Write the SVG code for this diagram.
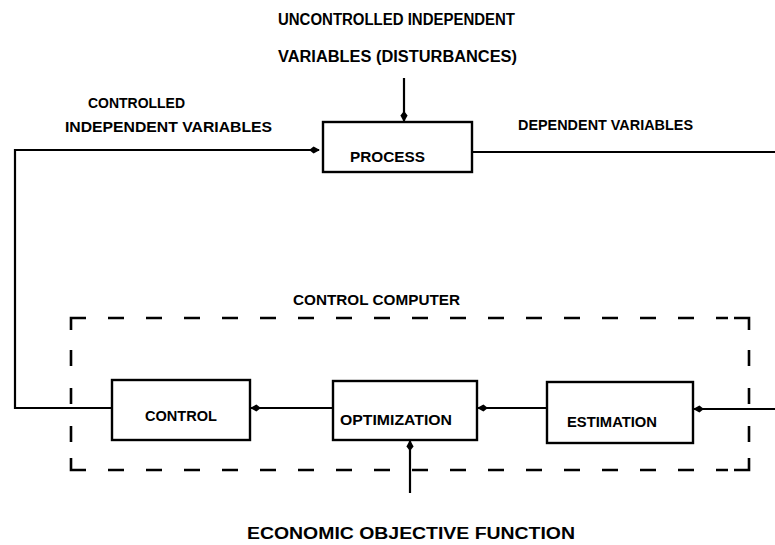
<svg xmlns="http://www.w3.org/2000/svg" width="775" height="545" viewBox="0 0 775 545">
<defs>
<style>
.box{fill:none;stroke:#000;stroke-width:2.4}
.ln{fill:none;stroke:#000;stroke-width:2.2}
.dash{fill:none;stroke:#000;stroke-width:2.6;stroke-dasharray:16 22}
.corner{fill:none;stroke:#000;stroke-width:2.6}
text{font-family:"Liberation Sans",Arial,sans-serif;font-weight:bold;font-size:15px;fill:#000}
</style>
<marker id="ah2" viewBox="0 0 12 10" refX="11" refY="5" markerWidth="11" markerHeight="9" orient="auto" markerUnits="userSpaceOnUse">
<path d="M0,5 L5,1 L12,5 L5,9 Z" fill="#000"/>
</marker>
</defs>
<rect width="775" height="545" fill="#fff"/>

<g id="labels">
<text x="278" y="25" textLength="237" lengthAdjust="spacingAndGlyphs" style="font-size:16px">UNCONTROLLED INDEPENDENT</text>
<text x="278" y="62" textLength="239" lengthAdjust="spacingAndGlyphs" style="font-size:16px">VARIABLES (DISTURBANCES)</text>
<text x="88" y="108" textLength="97" lengthAdjust="spacingAndGlyphs">CONTROLLED</text>
<text x="65" y="132" textLength="207" lengthAdjust="spacingAndGlyphs">INDEPENDENT VARIABLES</text>
<text x="518" y="130" textLength="175" lengthAdjust="spacingAndGlyphs">DEPENDENT VARIABLES</text>
<text x="293" y="305" textLength="167" lengthAdjust="spacingAndGlyphs">CONTROL COMPUTER</text>
<text x="247" y="539" textLength="328" lengthAdjust="spacingAndGlyphs" style="font-size:16px">ECONOMIC OBJECTIVE FUNCTION</text>
</g>

<g id="control-computer">
<path class="corner" d="M71,330 V318 H86"/>
<path class="corner" d="M734,318 H749 V330"/>
<path class="corner" d="M71,458 V470 H86"/>
<path class="corner" d="M734,470 H749 V458"/>
<path class="dash" d="M108,318 H728"/>
<path class="dash" d="M108,470 H728"/>
<path class="dash" d="M71,350 V450"/>
<path class="dash" d="M749,350 V450"/>
</g>

<g id="process">
<rect class="box" x="323" y="122" width="149" height="50"/>
<text x="350" y="162" textLength="75" lengthAdjust="spacingAndGlyphs">PROCESS</text>
</g>

<g id="control">
<rect class="box" x="112" y="380" width="138" height="60"/>
<text x="145" y="421" textLength="72" lengthAdjust="spacingAndGlyphs">CONTROL</text>
</g>

<g id="optimization">
<rect class="box" x="333" y="381" width="144" height="59"/>
<text x="340" y="425" textLength="112" lengthAdjust="spacingAndGlyphs">OPTIMIZATION</text>
</g>

<g id="estimation">
<rect class="box" x="547" y="382" width="146" height="61"/>
<text x="567" y="427" textLength="90" lengthAdjust="spacingAndGlyphs">ESTIMATION</text>
</g>

<g id="connectors">
<path class="ln" d="M112,408 H15 V150 H319" marker-end="url(#ah2)"/>
<path class="ln" d="M404,78 V121" marker-end="url(#ah2)"/>
<path class="ln" d="M472,152 H775"/>
<path class="ln" d="M775,409 H694" marker-end="url(#ah2)"/>
<path class="ln" d="M547,408 H478" marker-end="url(#ah2)"/>
<path class="ln" d="M333,408 H251" marker-end="url(#ah2)"/>
<path class="ln" d="M410,493 V441" marker-end="url(#ah2)"/>
</g>
</svg>
